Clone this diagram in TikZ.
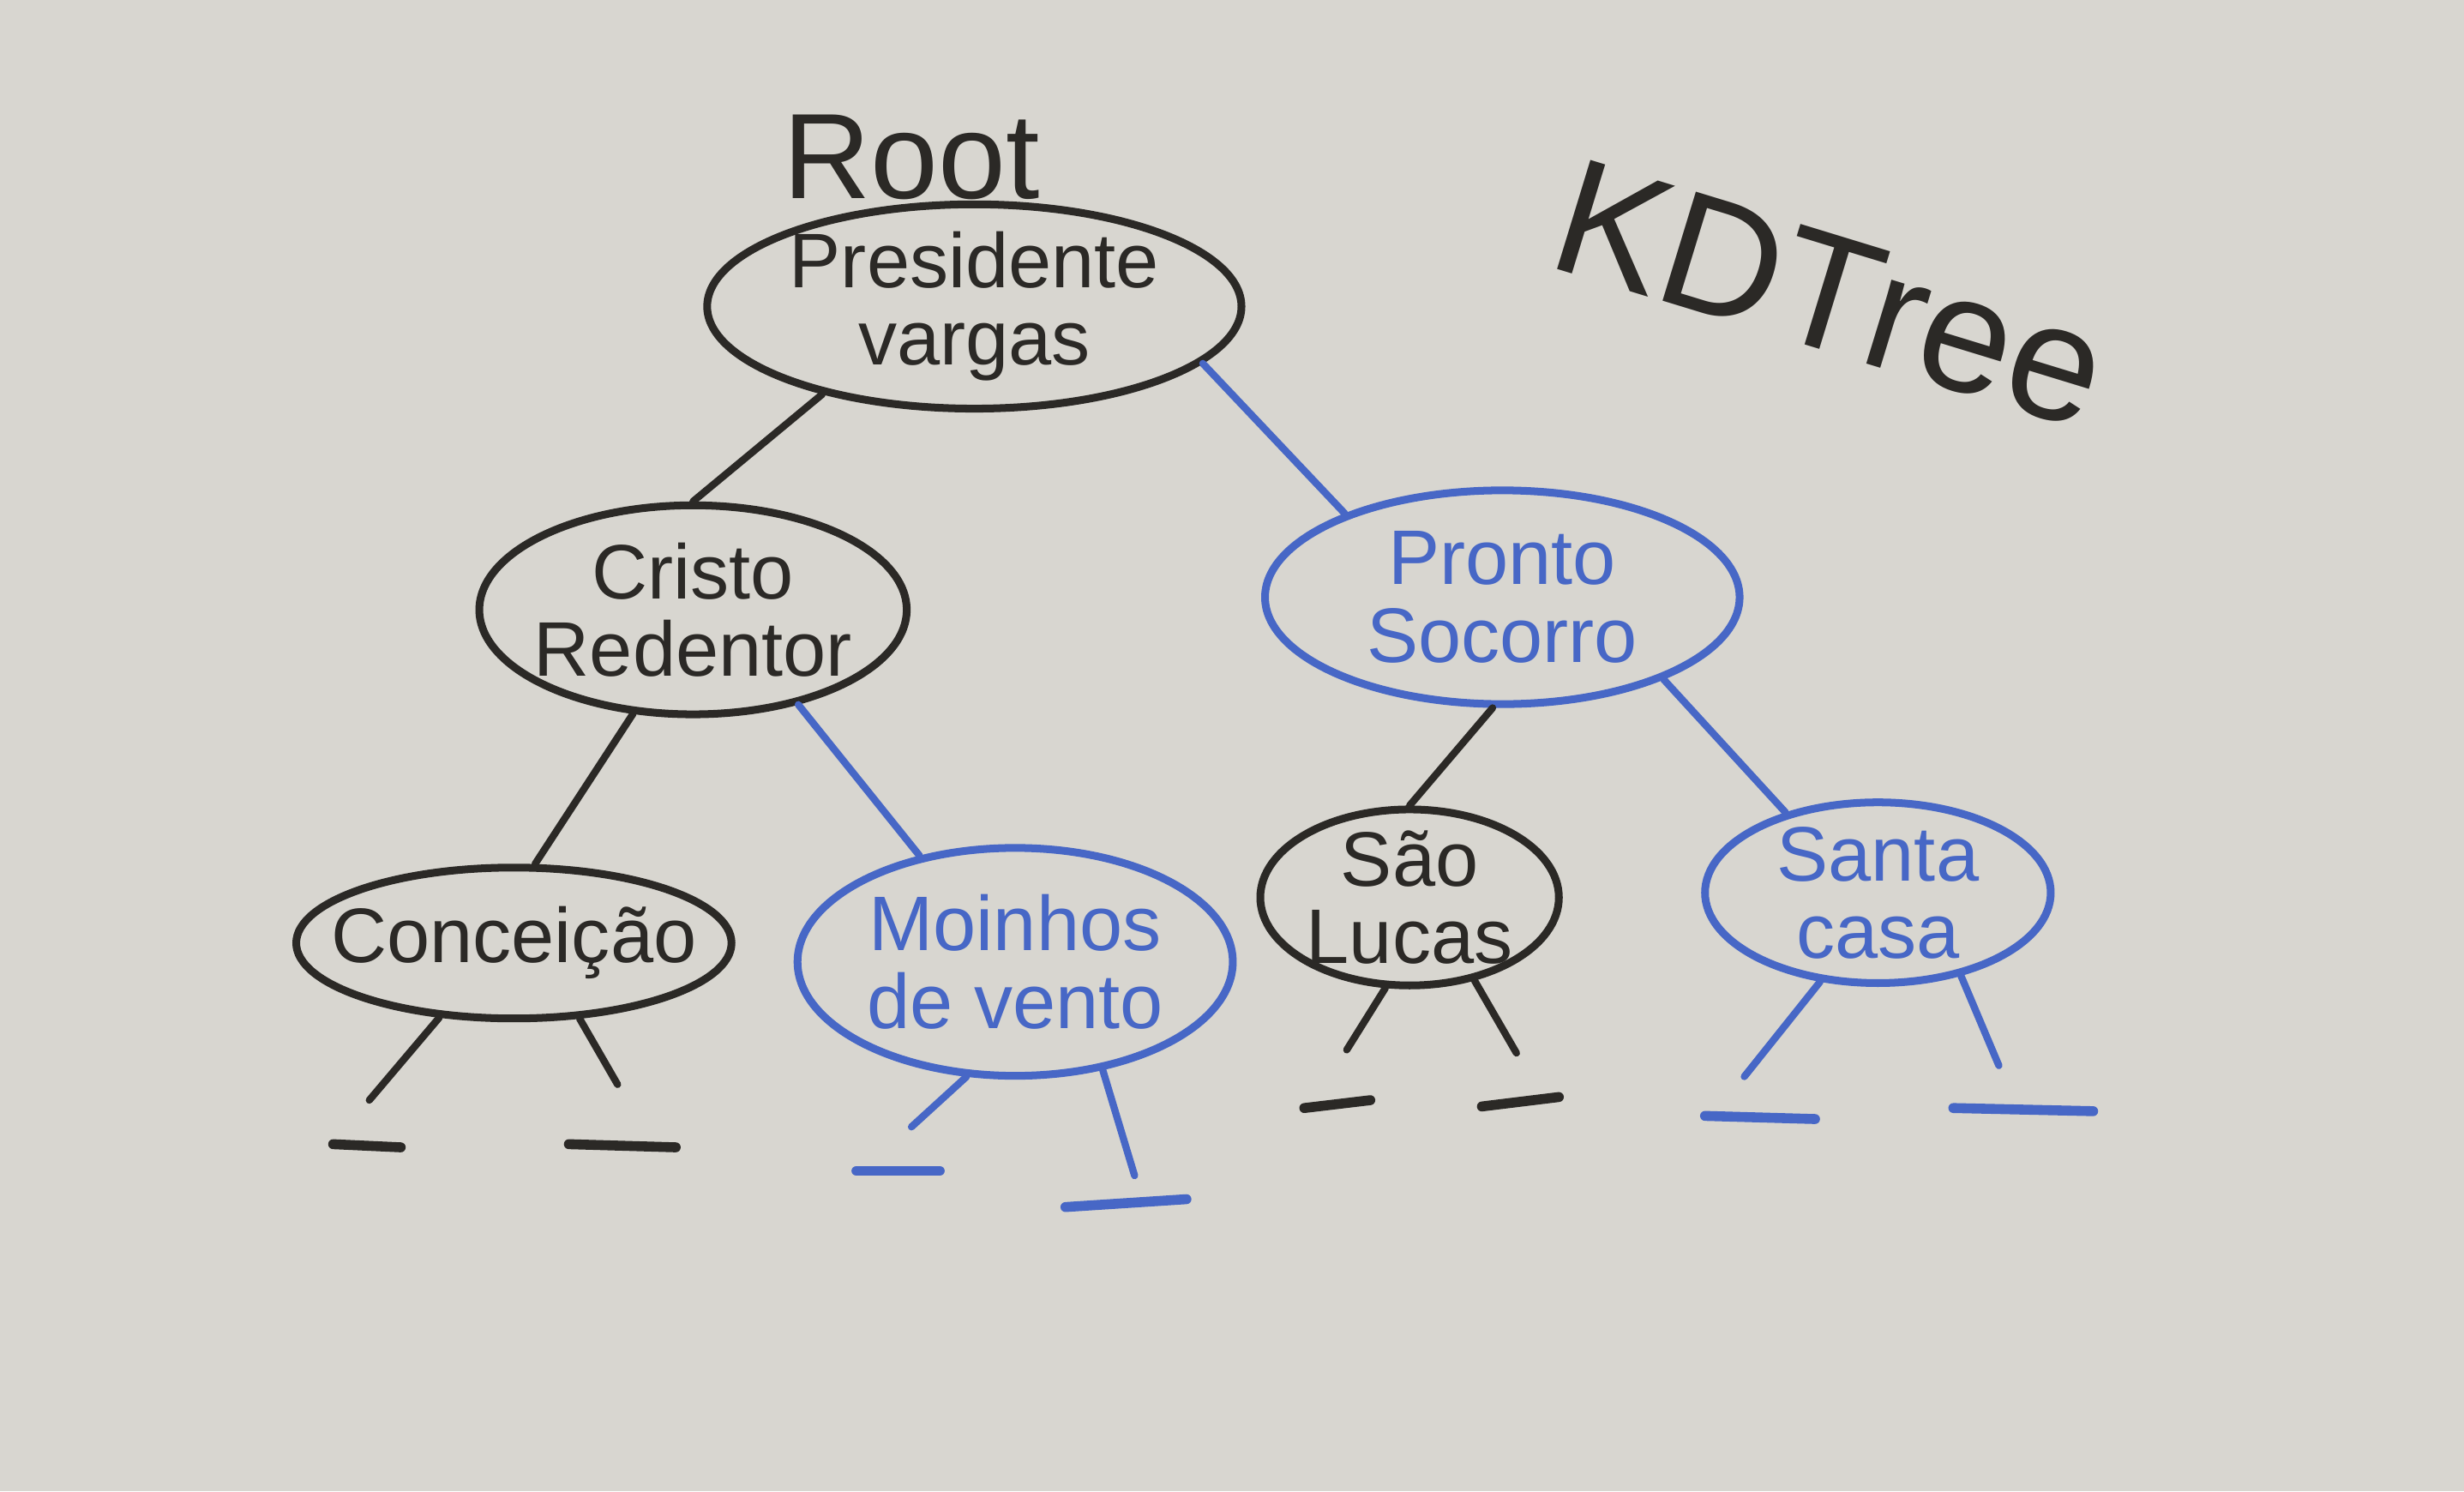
\documentclass[tikz,border=0pt]{standalone}
\usepackage{fontspec}
\setmainfont{Liberation Sans}
\usepackage{tikz}
\usetikzlibrary{shapes.geometric, positioning}
\definecolor{board}{HTML}{D8D6D0}
\definecolor{ink}{HTML}{2B2926}
\definecolor{blueink}{HTML}{4767C6}

\begin{document}
\begin{tikzpicture}[
  font=\fontsize{14}{14}\selectfont,
  nd/.style={ellipse, draw, line width=1.4pt, inner sep=-6mm, align=center},
  blk/.style={nd, draw=ink, text=ink},
  blu/.style={nd, draw=blueink, text=blueink},
  ln/.style={line width=1.3pt, line cap=round, draw=ink},
  bln/.style={ln, draw=blueink},
  nul/.style={ln, line width=1.8pt},
  bnul/.style={bln, line width=1.8pt}
]
\fill[board] (0,0) rectangle (15.68,9.49);
\useasboundingbox (0,0) rectangle (15.68,9.49);

\node[blk, minimum width=3.40cm, minimum height=1.30cm] (root) at (6.20,7.54) {Presidente\\vargas};
\node[blk, minimum width=2.72cm, minimum height=1.33cm] (cristo) at (4.41,5.61) {Cristo\\Redentor};
\node[blu, minimum width=3.02cm, minimum height=1.36cm] (pronto) at (9.56,5.69) {Pronto\\Socorro};
\node[blk, minimum width=2.77cm, minimum height=0.96cm] (conc) at (3.27,3.49) {Conceição};
\node[blu, minimum width=2.77cm, minimum height=1.45cm] (moinhos) at (6.46,3.37) {Moinhos\\de vento};
\node[blk, minimum width=1.90cm, minimum height=1.12cm] (saolucas) at (8.97,3.78) {São\\Lucas};
\node[blu, minimum width=2.20cm, minimum height=1.15cm] (santa) at (11.95,3.81) {Santa\\casa};

\node[font=\fontsize{22}{22}\selectfont, text=ink, inner sep=0pt, above=0mm of root.north, xshift=-4mm] (rootlbl) {Root};
\node[font=\fontsize{30}{30}\selectfont, text=ink, rotate=-17] (title) at (11.65,7.62) {KDTree};

\draw[ln] (root.210) -- (cristo.north);
\draw[bln] (root.346) -- (pronto.152);
\draw[ln] (cristo.240) -- (conc.75);
\draw[bln] (cristo.318) -- (moinhos.132);
\draw[ln] (pronto.265) -- (saolucas.north);
\draw[bln] (pronto.333) -- (santa.139);

\coordinate (c1) at (2.35,2.49); \coordinate (c2) at (3.93,2.59);
\coordinate (m1) at (5.80,2.32); \coordinate (m2) at (7.22,2.01);
\coordinate (s1) at (8.57,2.81); \coordinate (s2) at (9.65,2.79);
\coordinate (t1) at (11.10,2.64); \coordinate (t2) at (12.72,2.71);
\draw[ln] (conc.225) -- (c1); \draw[ln] (conc.311) -- (c2);
\draw[bln] (moinhos.247) -- (m1); \draw[bln] (moinhos.309) -- (m2);
\draw[ln] (saolucas.255) -- (s1); \draw[ln] (saolucas.308) -- (s2);
\draw[bln] (santa.237) -- (t1); \draw[bln] (santa.315) -- (t2);

\draw[nul] (2.12,2.21) -- (2.55,2.19); \draw[nul] (3.62,2.21) -- (4.30,2.19);
\draw[bnul] (5.45,2.04) -- (5.98,2.04); \draw[bnul] (6.78,1.81) -- (7.55,1.86);
\draw[nul] (8.30,2.44) -- (8.72,2.49); \draw[nul] (9.43,2.45) -- (9.92,2.51);
\draw[bnul] (10.85,2.39) -- (11.55,2.37); \draw[bnul] (12.43,2.44) -- (13.32,2.42);
\end{tikzpicture}
\end{document}
